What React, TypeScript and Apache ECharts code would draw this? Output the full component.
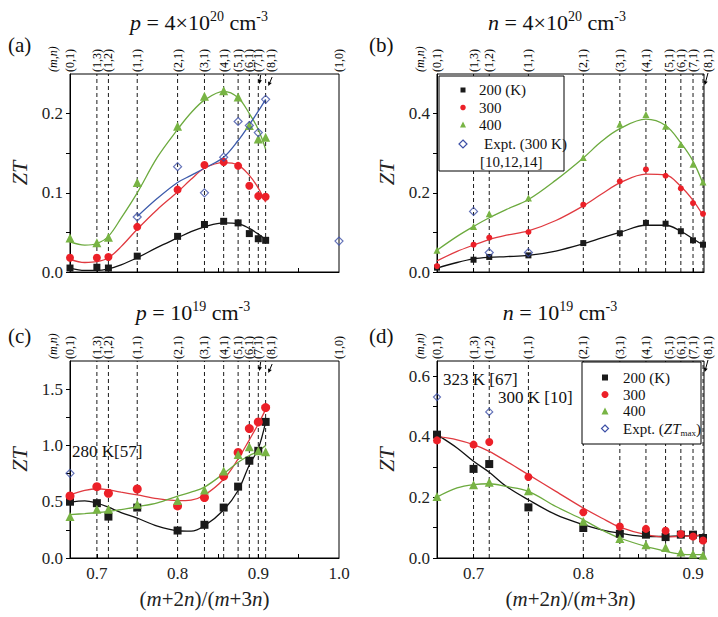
import React, { useEffect, useRef } from 'react';
import * as echarts from 'echarts';

const FONT = 'Liberation Serif';

// structure positions (m+2n)/(m+3n) and their (m,n) labels
const xPos = [0.6667, 0.7, 0.7143, 0.75, 0.8, 0.8333, 0.8571, 0.875, 0.8889, 0.9, 0.9091];
const mnLabels = ['(0,1)', '(1,3)', '(1,2)', '(1,1)', '(2,1)', '(3,1)', '(4,1)', '(5,1)', '(6,1)', '(7,1)', '(8,1)'];
const pureX = 1.0;
const pureLabel = '(1,0)';
const curveX = [0.6667, 0.685, 0.7, 0.7143, 0.73, 0.75, 0.775, 0.8, 0.8167, 0.8333, 0.8571, 0.875, 0.8889, 0.9, 0.9091];

// (a) p = 4e20
const a200 = [0.005, 0.006, 0.005, 0.020, 0.045, 0.060, 0.064, 0.062, 0.0485, 0.042, 0.040];
const a300 = [0.018, 0.018, 0.019, 0.057, 0.104, 0.135, 0.139, 0.134, 0.109, 0.096, 0.095];
const a400 = [0.043, 0.037, 0.044, 0.113, 0.184, 0.222, 0.229, 0.221, 0.185, 0.168, 0.170];
const aExptX = [0.75, 0.8, 0.8333, 0.8571, 0.875, 0.8889, 0.9, 0.9091, 1.0];
const aExpt = [0.0695, 0.133, 0.100, 0.145, 0.190, 0.185, 0.176, 0.218, 0.039];
const aFit200 = [0.005, 0.002, 0.002, 0.004, 0.009, 0.018, 0.031, 0.043, 0.051, 0.057, 0.062, 0.061, 0.055, 0.048, 0.041];
const aFit300 = [0.016, 0.012, 0.013, 0.018, 0.032, 0.054, 0.079, 0.101, 0.117, 0.131, 0.138, 0.135, 0.122, 0.106, 0.088];
const aFit400 = [0.038, 0.034, 0.036, 0.045, 0.068, 0.100, 0.145, 0.180, 0.201, 0.217, 0.228, 0.220, 0.200, 0.180, 0.155];
const aFitExptX = [0.75, 0.775, 0.8, 0.8167, 0.8333, 0.8571, 0.875, 0.8889, 0.9, 0.9091];
const aFitExpt = [0.070, 0.093, 0.113, 0.122, 0.131, 0.145, 0.166, 0.186, 0.203, 0.218];

// (b) n = 4e20
const b200 = [0.011, 0.031, 0.038, 0.042, 0.073, 0.098, 0.124, 0.122, 0.103, 0.080, 0.069];
const b300 = [0.015, 0.069, 0.087, 0.101, 0.170, 0.229, 0.259, 0.243, 0.211, 0.174, 0.147];
const b400 = [0.055, 0.115, 0.147, 0.187, 0.289, 0.373, 0.398, 0.368, 0.322, 0.272, 0.227];
const bExptX = [0.7, 0.7143, 0.75];
const bExpt = [0.153, 0.049, 0.049];
const bFit200 = [0.010, 0.024, 0.033, 0.037, 0.039, 0.042, 0.053, 0.071, 0.086, 0.100, 0.118, 0.118, 0.103, 0.084, 0.068];
const bFit300 = [0.028, 0.052, 0.068, 0.082, 0.093, 0.104, 0.130, 0.167, 0.197, 0.225, 0.247, 0.245, 0.216, 0.181, 0.143];
const bFit400 = [0.055, 0.090, 0.115, 0.137, 0.158, 0.183, 0.232, 0.288, 0.330, 0.362, 0.386, 0.370, 0.326, 0.280, 0.223];

// (c) p = 1e19
const c200 = [0.50, 0.487, 0.368, 0.448, 0.244, 0.295, 0.448, 0.634, 0.864, 0.952, 1.209];
const c300 = [0.551, 0.634, 0.575, 0.613, 0.463, 0.537, 0.728, 0.938, 1.150, 1.209, 1.336];
const c400 = [0.368, 0.434, 0.434, 0.478, 0.510, 0.604, 0.773, 0.920, 0.988, 0.952, 0.944];
const cExptX = [0.6667];
const cExpt = [0.752];
const cFit200 = [0.496, 0.508, 0.487, 0.451, 0.404, 0.354, 0.283, 0.242, 0.238, 0.286, 0.427, 0.600, 0.826, 0.973, 1.21];
const cFit300 = [0.56, 0.60, 0.615, 0.605, 0.585, 0.56, 0.527, 0.51, 0.515, 0.56, 0.70, 0.88, 1.05, 1.19, 1.32];
const cFit400 = [0.385, 0.395, 0.404, 0.415, 0.43, 0.455, 0.49, 0.55, 0.585, 0.63, 0.75, 0.85, 0.91, 0.95, 1.0];

// (d) n = 1e19
const d200 = [0.407, 0.294, 0.310, 0.167, 0.099, 0.080, 0.077, 0.069, 0.077, 0.077, 0.066];
const d300 = [0.388, 0.374, 0.383, 0.267, 0.151, 0.104, 0.096, 0.090, 0.079, 0.071, 0.058];
const d400 = [0.203, 0.242, 0.250, 0.222, 0.121, 0.064, 0.044, 0.035, 0.020, 0.013, 0.009];
const dExptX = [0.6667, 0.7143];
const dExpt = [0.531, 0.482];
const dFit200 = [0.407, 0.363, 0.319, 0.283, 0.236, 0.192, 0.143, 0.110, 0.093, 0.082, 0.071, 0.071, 0.073, 0.073, 0.075];
const dFit300 = [0.401, 0.390, 0.374, 0.352, 0.319, 0.275, 0.220, 0.165, 0.132, 0.102, 0.077, 0.069, 0.071, 0.073, 0.077];
const dFit400 = [0.201, 0.231, 0.242, 0.245, 0.236, 0.220, 0.170, 0.126, 0.093, 0.066, 0.038, 0.022, 0.013, 0.011, 0.011];

const C_BLACK = '#1a1a1a';
const C_RED = '#ec2028';
const C_GREEN = '#78b444';
const C_BLUE = '#3c4fa6';
const L_BLACK = '#111111';
const L_RED = '#e03a40';
const L_GREEN = '#6caa3e';
const L_BLUE = '#3d5bab';

type Arrow = { i: number; x1: number; y1: number; x2: number; y2: number };
type Panel = {
  grid: { left: number; top: number; width: number; height: number };
  xMax: number;
  yMax: number;
  yLabels: number[];
  yTicks: number[];
  xLabels: number[];
  xTicks: number[];
  showX: boolean;
  withPure: boolean;
  labelDx: Record<number, number>;
  arrows: Arrow[];
  sizes: [number, number, number, number];
  s200: number[]; s300: number[]; s400: number[];
  ex: number[]; ey: number[];
  f200: number[]; f300: number[]; f400: number[];
  fex?: number[]; fey?: number[];
};

const panels: Panel[] = [
  {
    grid: { left: 70, top: 74, width: 269, height: 198 },
    xMax: 1.0, yMax: 0.25,
    yLabels: [0, 0.1, 0.2], yTicks: [0, 0.05, 0.1, 0.15, 0.2],
    xLabels: [0.7, 0.8, 0.9, 1.0], xTicks: [0.7, 0.75, 0.8, 0.85, 0.9, 0.95],
    showX: false, withPure: true, labelDx: { 10: 5 },
    arrows: [{ i: 9, x1: 2.4, y1: 1, x2: 1, y2: 10 }, { i: 10, x1: 6.5, y1: 3, x2: 2.7, y2: 12 }],
    sizes: [7, 8, 9, 8],
    s200: a200, s300: a300, s400: a400, ex: aExptX, ey: aExpt,
    f200: aFit200, f300: aFit300, f400: aFit400, fex: aFitExptX, fey: aFitExpt,
  },
  {
    grid: { left: 437, top: 74, width: 267, height: 198 },
    xMax: 0.91, yMax: 0.5,
    yLabels: [0, 0.2, 0.4], yTicks: [0, 0.1, 0.2, 0.3, 0.4],
    xLabels: [0.7, 0.8, 0.9], xTicks: [0.7, 0.75, 0.8, 0.85, 0.9],
    showX: false, withPure: false, labelDx: { 7: 3, 10: 5 },
    arrows: [{ i: 10, x1: 5, y1: -1, x2: 1.7, y2: 11 }],
    sizes: [6, 6, 7, 8],
    s200: b200, s300: b300, s400: b400, ex: bExptX, ey: bExpt,
    f200: bFit200, f300: bFit300, f400: bFit400,
  },
  {
    grid: { left: 70, top: 361, width: 269, height: 197 },
    xMax: 1.0, yMax: 1.75,
    yLabels: [0, 0.5, 1.0, 1.5], yTicks: [0, 0.25, 0.5, 0.75, 1.0, 1.25, 1.5],
    xLabels: [0.7, 0.8, 0.9, 1.0], xTicks: [0.7, 0.75, 0.8, 0.85, 0.9, 0.95],
    showX: true, withPure: true, labelDx: { 10: 5 },
    arrows: [{ i: 9, x1: 2.4, y1: 1, x2: 1, y2: 10 }, { i: 10, x1: 6.5, y1: 3, x2: 2.7, y2: 12 }],
    sizes: [8, 9, 9, 8],
    s200: c200, s300: c300, s400: c400, ex: cExptX, ey: cExpt,
    f200: cFit200, f300: cFit300, f400: cFit400,
  },
  {
    grid: { left: 437, top: 361, width: 267, height: 197 },
    xMax: 0.91, yMax: 0.65,
    yLabels: [0, 0.2, 0.4, 0.6], yTicks: [0, 0.1, 0.2, 0.3, 0.4, 0.5, 0.6],
    xLabels: [0.7, 0.8, 0.9], xTicks: [0.7, 0.75, 0.8, 0.85, 0.9],
    showX: true, withPure: false, labelDx: { 7: 3, 10: 5 },
    arrows: [{ i: 10, x1: 5, y1: -1, x2: 1.7, y2: 11 }],
    sizes: [8, 8, 9, 7],
    s200: d200, s300: d300, s400: d400, ex: dExptX, ey: dExpt,
    f200: dFit200, f300: dFit300, f400: dFit400,
  },
];

function arrowEls(x1: number, y1: number, x2: number, y2: number) {
  const ang = Math.atan2(y2 - y1, x2 - x1);
  const L = 4;
  const W = 2;
  const bx = x2 - L * Math.cos(ang);
  const by = y2 - L * Math.sin(ang);
  const px = -Math.sin(ang) * W;
  const py = Math.cos(ang) * W;
  return [
    { type: 'line', shape: { x1, y1, x2: bx, y2: by }, style: { stroke: '#000', lineWidth: 1 } },
    { type: 'polygon', shape: { points: [[x2, y2], [bx + px, by + py], [bx - px, by - py]] }, style: { fill: '#000' } },
  ];
}

function guideSeries(pi: number, p: Panel) {
  const xs = p.withPure ? [...xPos, pureX] : xPos;
  const labels = p.withPure ? [...mnLabels, pureLabel] : mnLabels;
  return {
    type: 'custom',
    xAxisIndex: pi,
    yAxisIndex: pi,
    silent: true,
    clip: false,
    z: 1,
    data: xs.map((x) => [x, 0]),
    renderItem: (params: any, api: any) => {
      const i = params.dataIndex;
      const x = api.value(0);
      const b = api.coord([x, 0]);
      const t = api.coord([x, p.yMax]);
      const children: any[] = [];
      if (i > 0 && x < 0.99) {
        children.push({
          type: 'line',
          shape: { x1: b[0], y1: b[1], x2: t[0], y2: t[1] },
          style: { stroke: '#000', lineWidth: 0.9, lineDash: [4, 3] },
        });
      }
      const dx = p.labelDx[i] || 0;
      children.push({
        type: 'text',
        x: t[0] + dx,
        y: t[1] - 2,
        rotation: Math.PI / 2,
        style: {
          text: labels[i], fontSize: 12, fontFamily: FONT, fill: '#000',
          align: 'left', verticalAlign: 'middle', textAlign: 'left', textVerticalAlign: 'middle',
        },
      });
      if (i === 0) {
        children.push({
          type: 'text',
          x: t[0] - 17,
          y: t[1] - 2,
          rotation: Math.PI / 2,
          style: {
            text: '(m,n)', fontSize: 12, fontFamily: FONT, fontStyle: 'italic', fill: '#000',
            align: 'left', verticalAlign: 'middle', textAlign: 'left', textVerticalAlign: 'middle',
          },
        });
      }
      p.arrows.forEach((a) => {
        if (a.i === i) children.push(...arrowEls(t[0] + a.x1, t[1] + a.y1, t[0] + a.x2, t[1] + a.y2));
      });
      return { type: 'group', children };
    },
  };
}

function pairs(xs: number[], ys: number[]) {
  return xs.map((x, i) => [x, ys[i]]);
}

function scatter(pi: number, name: string, xs: number[], ys: number[], symbol: string, size: number, color: string, hollow = false) {
  return {
    type: 'scatter',
    name,
    xAxisIndex: pi,
    yAxisIndex: pi,
    data: pairs(xs, ys),
    symbol,
    symbolSize: size,
    clip: false,
    silent: true,
    z: hollow ? 6 : 5,
    itemStyle: hollow
      ? { color: 'rgba(255,255,255,0)', borderColor: color, borderWidth: 1.2 }
      : { color, opacity: 1 },
  };
}

function fit(pi: number, name: string, xs: number[], ys: number[], color: string) {
  return {
    type: 'line',
    name,
    xAxisIndex: pi,
    yAxisIndex: pi,
    data: pairs(xs, ys),
    smooth: 0.35,
    showSymbol: false,
    symbol: 'none',
    silent: true,
    z: 3,
    lineStyle: { color, width: 1.3 },
  };
}

const fmt1 = (v: number) => v.toFixed(1);

function legendMarker(kind: string, cx: number, cy: number, s: number, color: string) {
  if (kind === 'rect') return { type: 'rect', z: 30, shape: { x: cx - s / 2, y: cy - s / 2, width: s, height: s }, style: { fill: color } };
  if (kind === 'circle') return { type: 'circle', z: 30, shape: { cx, cy, r: s / 2 }, style: { fill: color } };
  if (kind === 'triangle') return { type: 'polygon', z: 30, shape: { points: [[cx, cy - s / 2], [cx + s / 2, cy + s / 2], [cx - s / 2, cy + s / 2]] }, style: { fill: color } };
  return { type: 'polygon', z: 30, shape: { points: [[cx, cy - s / 2], [cx + s / 2, cy], [cx, cy + s / 2], [cx - s / 2, cy]] }, style: { fill: '#fff', stroke: color, lineWidth: 1.2 } };
}

function txt(x: number, y: number, text: string, size: number, extra: any = {}) {
  return {
    type: 'text',
    x,
    y,
    z: 30,
    style: {
      text, fontSize: size, fontFamily: FONT, fill: '#111',
      align: 'left', verticalAlign: 'middle', textAlign: 'left', textVerticalAlign: 'middle',
      ...extra,
    },
  };
}

const supRich = {
  i: { fontStyle: 'italic', fontSize: 22, fontFamily: FONT, fill: '#111', lineHeight: 26 },
  s: { fontSize: 14, fontFamily: FONT, fill: '#111', verticalAlign: 'top', lineHeight: 14 },
};

function title(x: number, y: number, text: string) {
  return txt(x, y, text, 22, { align: 'center', textAlign: 'center', lineHeight: 26, rich: supRich });
}

function buildOption() {
  const grid = panels.map((p) => ({ ...p.grid, show: true, borderColor: '#000', borderWidth: 1, backgroundColor: 'transparent' }));
  const xAxis = panels.map((p, i) => ({
    type: 'value',
    gridIndex: i,
    min: xPos[0],
    max: p.xMax,
    splitLine: { show: false },
    axisLine: { show: true, onZero: false, lineStyle: { color: '#000', width: 1 } },
    axisTick: { show: true, inside: true, length: 4, customValues: p.xTicks, lineStyle: { color: '#000' } },
    axisLabel: {
      show: p.showX, customValues: p.xLabels, formatter: fmt1,
      fontFamily: FONT, fontSize: 17, color: '#222', margin: 7,
    },
    name: p.showX ? '({i|m}+2{i|n})/({i|m}+3{i|n})' : '',
    nameLocation: 'middle',
    nameGap: 30,
    nameTextStyle: {
      fontFamily: FONT, fontSize: 21, color: '#222',
      rich: { i: { fontFamily: FONT, fontSize: 21, fontStyle: 'italic', color: '#222' } },
    },
  }));
  const yAxis = panels.map((p, i) => ({
    type: 'value',
    gridIndex: i,
    min: 0,
    max: p.yMax,
    splitLine: { show: false },
    axisLine: { show: true, onZero: false, lineStyle: { color: '#000', width: 1 } },
    axisTick: { show: true, inside: false, length: 4, customValues: p.yTicks, lineStyle: { color: '#000' } },
    axisLabel: { customValues: p.yLabels, formatter: fmt1, fontFamily: FONT, fontSize: 17, color: '#222', margin: 7 },
    name: 'ZT',
    nameLocation: 'middle',
    nameGap: 40,
    nameRotate: 90,
    nameTextStyle: { fontFamily: FONT, fontSize: 22, fontStyle: 'italic', color: '#222' },
  }));

  const series: any[] = [];
  panels.forEach((p, i) => {
    series.push(guideSeries(i, p));
    series.push(fit(i, '200 (K) fit', curveX, p.f200, L_BLACK));
    series.push(fit(i, '300 fit', curveX, p.f300, L_RED));
    series.push(fit(i, '400 fit', curveX, p.f400, L_GREEN));
    if (p.fex && p.fey) series.push(fit(i, 'Expt. fit', p.fex, p.fey, L_BLUE));
    series.push(scatter(i, '200 (K)', xPos, p.s200, 'rect', p.sizes[0], C_BLACK));
    series.push(scatter(i, '300', xPos, p.s300, 'circle', p.sizes[1], C_RED));
    series.push(scatter(i, '400', xPos, p.s400, 'triangle', p.sizes[2], C_GREEN));
    series.push(scatter(i, 'Expt.', p.ex, p.ey, 'diamond', p.sizes[3], C_BLUE, true));
  });

  const graphic: any[] = [
    // titles
    title(199, 22, '{i|p} = 4×10{s|20} cm{s|-3}'),
    title(557, 22, '{i|n} = 4×10{s|20} cm{s|-3}'),
    title(193, 312, '{i|p} = 10{s|19} cm{s|-3}'),
    title(560, 312, '{i|n} = 10{s|19} cm{s|-3}'),
    // panel letters
    txt(8, 45, '(a)', 21),
    txt(369, 45, '(b)', 21),
    txt(8, 336, '(c)', 21),
    txt(369, 336, '(d)', 21),
    // legend (b)
    { type: 'rect', z: 25, shape: { x: 439, y: 76, width: 125, height: 95 }, style: { fill: '#fff', stroke: '#000', lineWidth: 1 } },
    legendMarker('rect', 463, 90, 5, C_BLACK),
    legendMarker('circle', 463, 107.5, 5.5, C_RED),
    legendMarker('triangle', 463, 124.5, 6, C_GREEN),
    legendMarker('diamond', 463, 144, 8, C_BLUE),
    txt(479, 90, '200 (K)', 15),
    txt(479, 107.5, '300', 15),
    txt(479, 124.5, '400', 15),
    txt(484, 144, 'Expt. (300 K)', 15),
    txt(480, 162, '[10,12,14]', 15),
    // legend (d)
    { type: 'rect', z: 25, shape: { x: 582, y: 362, width: 119, height: 82 }, style: { fill: '#fff', stroke: '#000', lineWidth: 1 } },
    legendMarker('rect', 605, 377.5, 6, C_BLACK),
    legendMarker('circle', 605, 394.5, 7, C_RED),
    legendMarker('triangle', 605, 411, 7, C_GREEN),
    legendMarker('diamond', 605, 428.5, 7, C_BLUE),
    txt(623, 377.5, '200 (K)', 15),
    txt(623, 394.5, '300', 15),
    txt(623, 411, '400', 15),
    txt(623, 428.5, 'Expt. ({i|ZT}{b|max})', 15, {
      rich: {
        i: { fontStyle: 'italic', fontSize: 15, fontFamily: FONT, fill: '#111', lineHeight: 18 },
        b: { fontSize: 9, fontFamily: FONT, fill: '#111', verticalAlign: 'bottom', lineHeight: 9 },
      },
      lineHeight: 18,
    }),
    // annotations
    txt(72, 451, '280 K[57]', 17),
    txt(443, 379, '323 K [67]', 17),
    txt(498, 397, '300 K [10]', 17),
  ];

  return {
    animation: false,
    backgroundColor: '#fff',
    textStyle: { fontFamily: FONT },
    grid,
    xAxis,
    yAxis,
    series,
    graphic: { elements: graphic },
  };
}

export default function App() {
  const ref = useRef<HTMLDivElement>(null);
  useEffect(() => {
    const chart = echarts.init(ref.current as HTMLDivElement, null, { renderer: 'svg' });
    chart.setOption(buildOption() as any);
    return () => chart.dispose();
  }, []);
  return (
    <div
      ref={ref}
      style={{ position: 'fixed', left: 0, top: 0, width: 718, height: 617, background: '#fff' }}
    />
  );
}
